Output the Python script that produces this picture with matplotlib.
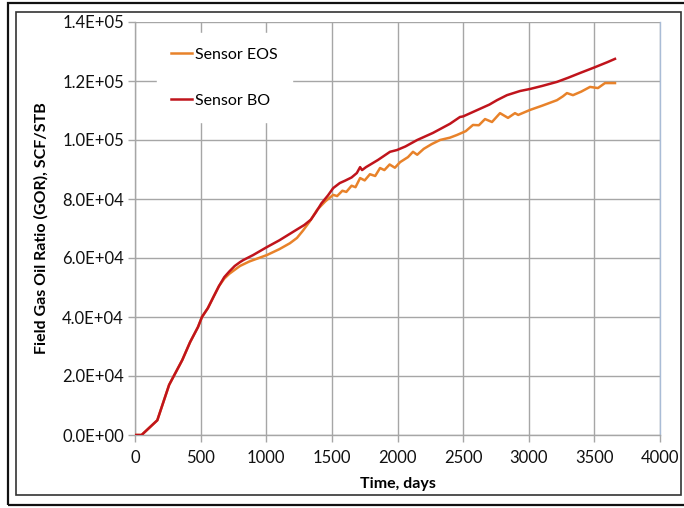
import matplotlib
matplotlib.use("Agg")
import matplotlib.pyplot as plt
from matplotlib.patches import Rectangle
from matplotlib.ticker import FuncFormatter, MultipleLocator

plt.rcParams["font.family"] = ["Lato", "DejaVu Sans"]

# Sensor BO (black-oil) field GOR, SCF/STB
bo_days = [0, 50, 170, 260, 360, 420, 480, 510, 555, 600, 640, 680, 720, 760,
           800, 825, 900, 1005, 1100, 1235, 1290, 1340, 1380, 1420, 1470,
           1510, 1560, 1600, 1650, 1690, 1715, 1730, 1760, 1850, 1943, 1996,
           2060, 2150, 2270, 2400, 2476, 2500, 2600, 2700, 2758, 2834, 2933,
           3010, 3100, 3215, 3300, 3390, 3500, 3600, 3657]
bo_gor = [0, 0, 5000, 17000, 25400, 31500, 36600, 40000, 43000, 47000, 50500,
          53500, 55500, 57300, 58600, 59300, 61000, 63700, 66000, 69700,
          71200, 73000, 75600, 78500, 81200, 83700, 85400, 86200, 87300,
          88800, 90800, 89800, 90800, 93200, 96000, 96600, 97800, 100000,
          102400, 105500, 107800, 108000, 110000, 112000, 113500, 115200,
          116600, 117300, 118300, 119700, 121100, 122700, 124600, 126400,
          127500]

# Sensor EOS (compositional) field GOR, SCF/STB
eos_days = [0, 50, 170, 260, 360, 420, 480, 510, 555, 600, 640, 680, 720, 760,
            800, 870, 1005, 1100, 1180, 1234, 1280, 1330, 1387, 1450, 1510,
            1540, 1580, 1610, 1650, 1680, 1715, 1750, 1790, 1830, 1867, 1900,
            1940, 1980, 2020, 2080, 2118, 2150, 2200, 2260, 2324, 2400, 2453,
            2520, 2575, 2620, 2667, 2720, 2781, 2842, 2895, 2920, 3010, 3100,
            3215, 3260, 3291, 3337, 3400, 3467, 3527, 3581, 3657]
eos_gor = [0, 0, 5000, 17000, 25400, 31500, 36600, 40000, 43000, 47000, 50500,
           53000, 54700, 56000, 57300, 58800, 61000, 63000, 65000, 66800,
           69300, 72300, 76300, 79200, 81400, 81000, 82800, 82400, 84500,
           84000, 87100, 86300, 88400, 87800, 90500, 89800, 91700, 90600,
           92500, 94200, 96000, 95000, 97000, 98600, 100000, 100800, 101700,
           103000, 105100, 105000, 107100, 106100, 109100, 107500, 109100,
           108500, 110200, 111600, 113500, 114800, 115900, 115200, 116400,
           118000, 117600, 119300, 119300]

x_ticks = [0, 500, 1000, 1500, 2000, 2500, 3000, 3500, 4000]

W, H = 684, 508
fig = plt.figure(figsize=(W / 100, H / 100), dpi=100)
ax = fig.add_axes([135 / W, 1 - 435 / H, 525 / W, 413 / H])

ax.plot(eos_days, eos_gor, color="#E8822A", lw=1.8, label="Sensor EOS",
        zorder=3)
ax.plot(bo_days, bo_gor, color="#C0141C", lw=1.8, label="Sensor BO",
        zorder=4)

ax.set_xlim(0, 4000)
ax.set_ylim(0, 140000)
ax.set_xticks(x_ticks)
ax.yaxis.set_major_locator(MultipleLocator(20000))
ax.yaxis.set_major_formatter(FuncFormatter(lambda v, p: f"{v:.1E}"))

ax.grid(True, color="#a6a6a6", lw=1.0, zorder=0)
ax.set_axisbelow(True)
for s in ("left", "bottom"):
    ax.spines[s].set_color("#a6a6a6")
    ax.spines[s].set_linewidth(1.0)
ax.spines["top"].set_visible(False)
ax.spines["right"].set_color("#a9bcd6")
ax.spines["right"].set_linewidth(1.0)
ax.tick_params(axis="both", direction="out", length=5, width=1.0,
               color="#a6a6a6", labelsize=12, labelcolor="#111111")
ax.tick_params(axis="x", pad=6)
ax.tick_params(axis="y", pad=3)

ax.set_xlabel("Time, days", fontsize=11.5, fontweight="bold", labelpad=8)
ax.set_ylabel("Field Gas Oil Ratio (GOR), SCF/STB", fontsize=11.5,
              fontweight="bold", labelpad=10)

leg = ax.legend(loc="upper left", bbox_to_anchor=(22 / 525, 1 - 11 / 413),
                frameon=True, fancybox=False, framealpha=1,
                edgecolor="white", facecolor="white", fontsize=11.5,
                handlelength=1.3, handletextpad=0.15, labelspacing=2.0,
                borderpad=0.9, borderaxespad=0)
leg.set_zorder(5)

# double frame around the whole figure
fig.add_artist(Rectangle((8 / W, 1 - 505 / H), 690 / W, 502 / H,
                         transform=fig.transFigure, fill=False,
                         edgecolor="#111111", lw=1.6))
fig.add_artist(Rectangle((16 / W, 1 - 495 / H), 665 / W, 483 / H,
                         transform=fig.transFigure, fill=False,
                         edgecolor="#333333", lw=1.2))

fig.savefig("out.png", dpi=100)
